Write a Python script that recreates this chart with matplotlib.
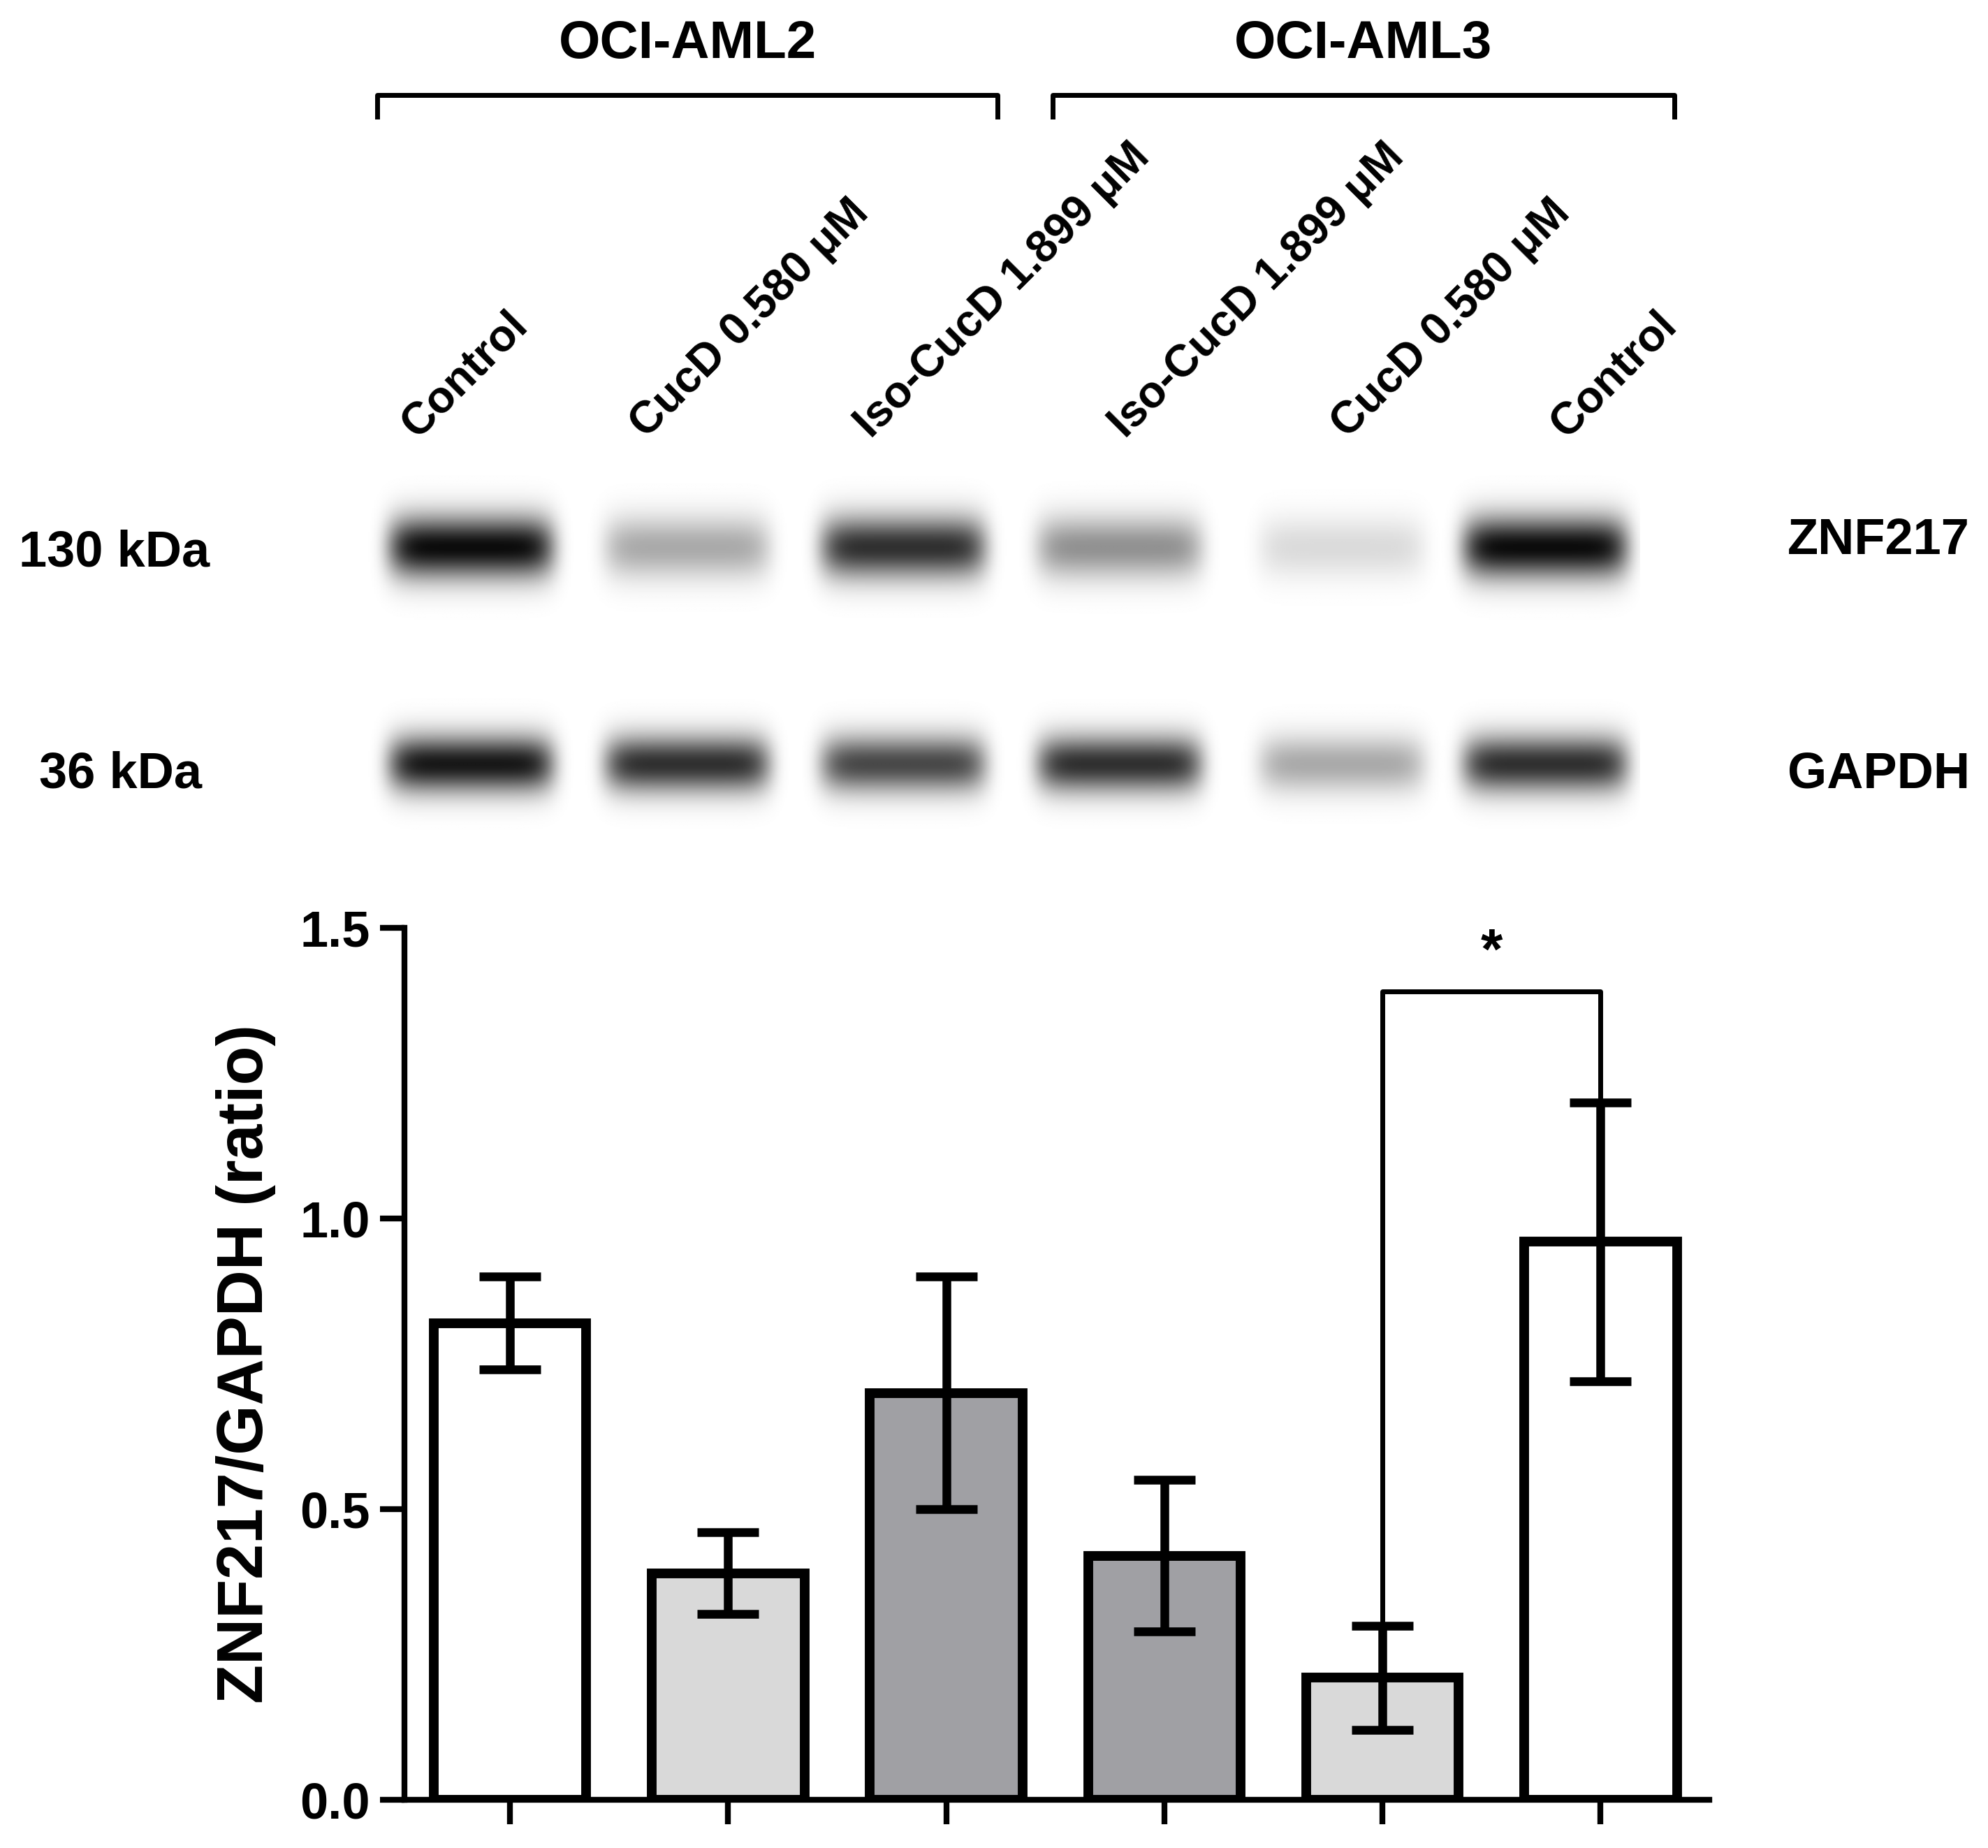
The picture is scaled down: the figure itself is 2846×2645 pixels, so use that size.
import matplotlib
matplotlib.use('Agg')
import matplotlib.pyplot as plt
import numpy as np

plt.rcParams['font.family'] = ['Arial', 'Liberation Sans', 'DejaVu Sans']
plt.rcParams['font.weight'] = 'bold'

lanes = ["Control", "CucD 0.580 μM", "Iso-CucD 1.899 μM",
         "Iso-CucD 1.899 μM", "CucD 0.580 μM", "Control"]
means = [0.82, 0.39, 0.70, 0.42, 0.21, 0.96]
errs = [0.08, 0.07, 0.20, 0.13, 0.09, 0.24]
colors = ["white", "#d9d9d9", "#a0a0a4", "#a0a0a4", "#d9d9d9", "white"]
znf_band = [1.0, 0.35, 0.85, 0.45, 0.15, 1.0]
gapdh_band = [0.95, 0.85, 0.75, 0.85, 0.35, 0.85]
lane_x = [370, 540, 710, 880, 1055, 1215]
label_x = [333, 513, 690, 890, 1065, 1237]

W, H = 1564, 1460
fig = plt.figure(figsize=(28.46, 26.45), dpi=100)
ov = fig.add_axes([0, 0, 1, 1])
ov.set_xlim(0, W)
ov.set_ylim(H, 0)
ov.axis('off')

# blot image
xx, yy = np.meshgrid(np.arange(280, 1290), np.arange(370, 660))
img = np.zeros_like(xx, dtype=float)
for cx, a, b in zip(lane_x, znf_band, gapdh_band):
    px = np.exp(-((xx - cx) / 65.0) ** 8)
    img += a * px * np.exp(-((yy - 432) / 24.0) ** 2)
    img += b * px * np.exp(-((yy - 603) / 22.0) ** 2)
ov.imshow(np.clip(img, 0, 1), cmap='gray_r', vmin=0, vmax=1.05,
          extent=[280, 1290, 660, 370], aspect='auto', interpolation='bilinear')

# group brackets
for x0, x1, lab in [(297, 785, "OCI-AML2"), (828, 1317, "OCI-AML3")]:
    ov.plot([x0, x0, x1, x1], [92, 75, 75, 92], color='black', lw=5)
    ov.text((x0 + x1) / 2, 35, lab, ha='center', va='center', fontsize=55)

for x, lab in zip(label_x, lanes):
    ov.text(x, 352, lab, rotation=45, ha='left', va='bottom',
            fontsize=46, rotation_mode='anchor')

ov.text(90, 437, "130 kDa", ha='center', va='center', fontsize=52)
ov.text(95, 612, "36 kDa", ha='center', va='center', fontsize=52)
ov.text(1478, 427, "ZNF217", ha='center', va='center', fontsize=52)
ov.text(1478, 612, "GAPDH", ha='center', va='center', fontsize=52)

# bar chart
ax = fig.add_axes([318 / W, 1 - 1422 / H, (1345 - 318) / W, (1422 - 733) / H])
pos = np.arange(len(means))
ax.bar(pos, means, width=0.7, color=colors, edgecolor='black', linewidth=10)
ax.errorbar(pos, means, yerr=errs, fmt='none', ecolor='black',
            elinewidth=9, capsize=32, capthick=9)
ax.set_xlim(-0.485, 5.5)
ax.set_ylim(0, 1.5)
ax.set_yticks([0, 0.5, 1.0, 1.5])
ax.set_yticklabels(["0.0", "0.5", "1.0", "1.5"])
ax.set_xticks(pos)
ax.set_xticklabels([])
for s in ['top', 'right']:
    ax.spines[s].set_visible(False)
for s in ['left', 'bottom']:
    ax.spines[s].set_linewidth(6)
ax.tick_params(width=6, length=25, labelsize=52, pad=10)
ax.set_ylabel("ZNF217/GAPDH (ratio)", fontsize=66, fontweight='bold', labelpad=25)

# significance bracket
y_top = 1.39
ax.plot([4, 4, 5, 5], [means[4] + errs[4] + 0.01, y_top, y_top, means[5] + errs[5] + 0.01],
        color='black', lw=5)
ax.text(4.5, y_top + 0.02, "*", ha='center', va='bottom', fontsize=58)

fig.savefig("out.png", dpi=100, facecolor='white')
